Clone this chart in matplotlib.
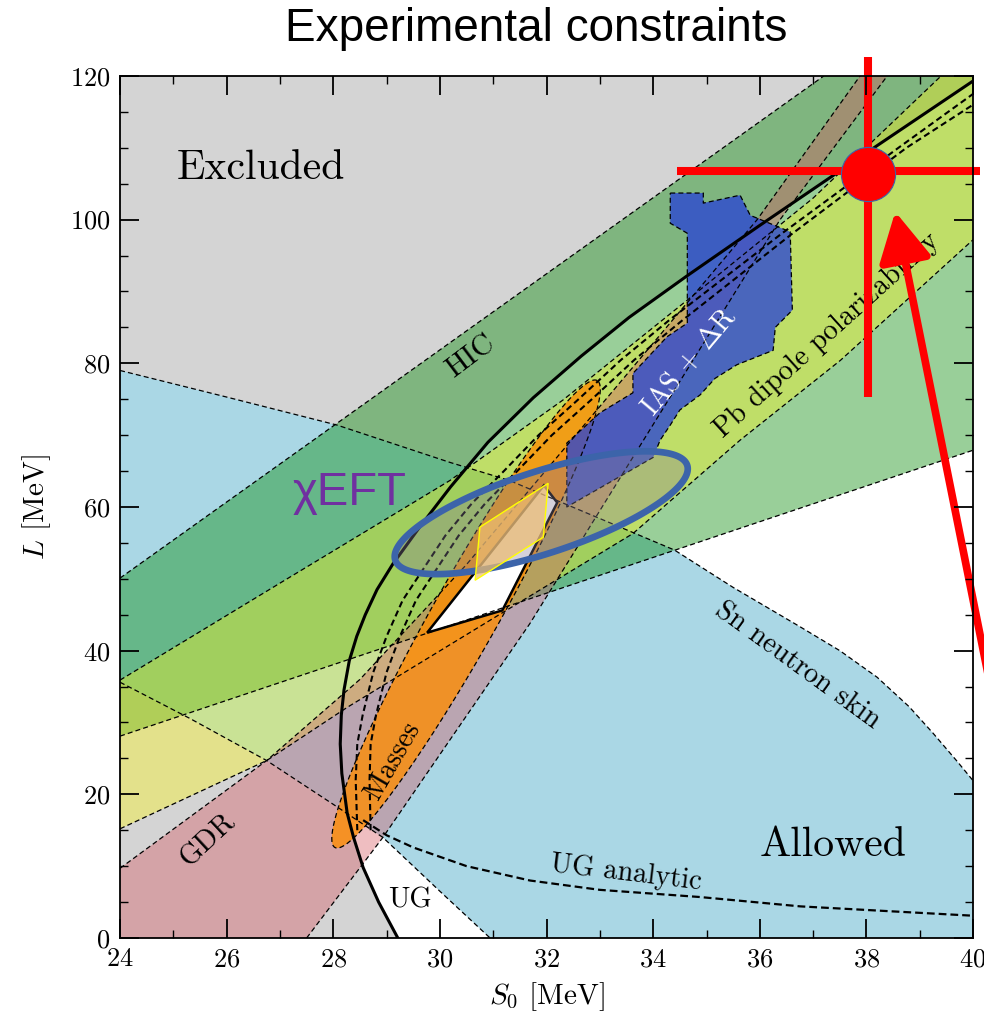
import numpy as np
import matplotlib
matplotlib.use("Agg")
import matplotlib.pyplot as plt
from matplotlib.patches import Polygon

plt.rcParams["font.family"] = ["cmr10", "DejaVu Serif"]
plt.rcParams["mathtext.fontset"] = "cm"
plt.rcParams["axes.formatter.use_mathtext"] = True
plt.rcParams["axes.unicode_minus"] = False

# ---------------- constraint boundaries in the (S0, L) plane [MeV] ----------------
# unitary-gas (UG) bound
ug_S = [29.21, 28.85, 28.56, 28.38, 28.26, 28.16, 28.13, 28.15, 28.20, 28.30, 28.44,
        28.60, 28.82, 29.12, 29.60, 30.20, 30.90, 31.75, 32.65, 33.55, 34.64, 36.00,
        38.00, 40.00]
ug_L = [0.0, 5.0, 9.8, 14.0, 17.4, 22.9, 27.0, 31.0, 34.5, 38.6, 42.0,
        45.0, 48.5, 52.1, 57.0, 62.8, 69.0, 75.2, 81.0, 86.4, 92.2, 99.2,
        109.3, 119.3]

# UG analytic estimate
uga_S = [28.56, 29.0, 29.5, 30.5, 31.69, 33.0, 34.88, 36.76, 38.5, 40.0]
uga_L = [16.4, 14.3, 12.6, 10.0, 8.0, 6.7, 5.7, 4.4, 3.7, 3.1]

# companion bounds running along the UG curve
ub1_S = [28.45, 28.42, 28.45, 28.55, 28.75, 29.00, 29.30, 29.70, 30.10, 30.60, 31.20,
         31.85, 32.60, 33.40, 34.30, 36.40, 38.60, 40.00]
ub1_L = [15.0, 22.0, 27.0, 31.0, 37.0, 42.0, 47.0, 51.5, 56.0, 60.5, 65.0,
         70.0, 75.0, 80.5, 86.0, 98.0, 110.0, 117.5]
ub2_S = [28.70, 28.68, 28.70, 28.80, 29.00, 29.25, 29.55, 29.95, 30.35, 30.85, 31.45,
         32.10, 32.85, 33.65, 34.55, 36.60, 38.75, 40.00]
ub2_L = [15.0, 22.0, 27.0, 31.0, 37.0, 42.0, 47.0, 51.5, 56.0, 60.5, 65.0,
         70.0, 75.0, 80.5, 86.0, 98.0, 110.0, 116.0]

# Sn neutron skin
sn_up_S = [24.0, 26.0, 28.07, 30.19, 31.3, 32.9, 34.4, 35.5, 36.76, 37.5, 38.2,
           38.8, 39.25, 39.7, 40.0]
sn_up_L = [79.0, 75.3, 71.4, 66.2, 63.7, 58.7, 54.0, 48.8, 43.3, 40.0, 36.3,
           32.2, 28.5, 24.6, 21.9]
sn_lo_S = [24.0, 25.3, 26.75, 28.0, 28.93, 30.0, 30.94]
sn_lo_L = [35.6, 30.6, 24.7, 18.6, 14.0, 6.5, 0.0]

# heavy-ion collisions
hic_up_S = [24.0, 37.2]
hic_up_L = [50.1, 120.0]
hic_lo_S = [24.0, 40.0]
hic_lo_L = [28.1, 67.9]

# Pb dipole polarizability
pb_up_S = [24.0, 27.0, 30.19, 32.31, 34.64, 37.0, 39.4]
pb_up_L = [35.9, 49.4, 63.7, 74.9, 88.8, 103.0, 120.0]
pb_lo_S = [24.0, 26.75, 28.26, 31.0, 33.62, 35.63, 37.51, 40.0]
pb_lo_L = [15.2, 24.7, 32.1, 44.5, 56.3, 69.3, 80.4, 97.2]

# giant dipole resonance
gdr_l_S = [24.0, 26.75, 28.5, 30.5, 33.0, 35.95, 37.88]
gdr_l_L = [9.7, 24.7, 36.0, 52.0, 74.0, 100.0, 120.0]
gdr_r_S = [27.5, 28.93, 31.69, 36.38, 38.39]
gdr_r_L = [0.0, 14.0, 43.8, 100.0, 120.0]

# nuclear masses (elongated contour: end points and half width in pixels)
masses_tips_S = [28.03, 32.95]
masses_tips_L = [12.6, 77.6]
masses_halfwidth_px = 33

# IAS + Delta R contour
ias_S = [34.32, 34.94, 34.94, 35.63, 35.82, 36.57, 36.61, 36.29, 36.25, 35.57, 35.16,
         34.88, 34.50, 34.32, 34.13, 34.00, 32.38, 32.38, 33.00, 33.62, 33.62, 34.26,
         34.64, 34.64, 34.32]
ias_L = [103.7, 103.7, 102.3, 103.4, 100.6, 98.3, 87.4, 85.0, 81.8, 79.8, 77.9,
         75.6, 73.5, 71.4, 69.3, 66.9, 60.0, 68.9, 73.1, 75.9, 78.6, 83.7,
         85.6, 98.1, 99.5]

# joint allowed region
joint_S = [29.76, 31.17, 32.20, 31.95]
joint_L = [42.5, 45.6, 60.6, 63.0]

# chiral EFT overlay
chi_box_S = [30.66, 31.94, 32.03, 30.75]
chi_box_L = [49.8, 55.8, 63.3, 57.2]
chi_ell_center = (31.90, 59.2)
chi_ell_axes_px = (153.5, 41.0)
chi_ell_angle = 18.0

# highlighted point with cross-hair
pt_S, pt_L = 38.03, 106.4
cross_h_S = [34.45, 40.13]
cross_h_L = 106.8
cross_v_L = [122.6, 75.3]
arrow_tip = (38.54, 101.1)
arrow_tail = (40.51, 28.2)

# ---------------- figure ----------------
fig = plt.figure(figsize=(9.84, 10.32), dpi=100)
ax = fig.add_axes([0.122, 0.0911, 0.8669, 0.8353])
ax.set_xlim(24, 40)
ax.set_ylim(0, 120)


def xy(S, L):
    return np.column_stack([S, L])


def fill(poly, color, alpha, z):
    ax.add_patch(Polygon(poly, closed=True, facecolor=color, alpha=alpha,
                         edgecolor="none", zorder=z))


def edge(S, L, z=9, lw=0.9):
    ax.plot(S, L, color="black", lw=lw, ls=(0, (4, 2.5)), zorder=z)


def px_ellipse(center, a, b, angle_deg, n=240):
    cx, cy = ax.transData.transform(center)
    t = np.linspace(0, 2 * np.pi, n)
    th = np.deg2rad(angle_deg)
    x = cx + a * np.cos(t) * np.cos(th) - b * np.sin(t) * np.sin(th)
    y = cy + a * np.cos(t) * np.sin(th) + b * np.sin(t) * np.cos(th)
    return ax.transData.inverted().transform(np.column_stack([x, y]))


# excluded side of the UG bound
gray_poly = np.vstack([xy(ug_S, ug_L), [[40, 120], [24, 120], [24, 0]]])
fill(gray_poly, "#d4d4d4", 1.0, 1)

# bands
sn_poly = np.vstack([xy(sn_up_S, sn_up_L), [[40, 0]], xy(sn_lo_S, sn_lo_L)[::-1]])
fill(sn_poly, "#aad7e5", 1.0, 2)

hic_poly = np.vstack([xy(hic_up_S, hic_up_L), [[40, 120]], xy(hic_lo_S, hic_lo_L)[::-1]])
fill(hic_poly, (0.0, 0.53, 0.0), 0.40, 3)

pb_poly = np.vstack([xy(pb_up_S, pb_up_L), [[40, 120]], xy(pb_lo_S, pb_lo_L)[::-1]])
fill(pb_poly, (0.98, 0.96, 0.12), 0.40, 4)

gdr_poly = np.vstack([xy(gdr_l_S, gdr_l_L), xy(gdr_r_S, gdr_r_L)[::-1], [[24, 0]]])
fill(gdr_poly, (0.84, 0.33, 0.37), 0.38, 5)

# masses contour built in screen space from its two tips
p_lo = ax.transData.transform((masses_tips_S[0], masses_tips_L[0]))
p_hi = ax.transData.transform((masses_tips_S[1], masses_tips_L[1]))
m_center = ax.transData.inverted().transform((p_lo + p_hi) / 2)
m_a = np.hypot(*(p_hi - p_lo)) / 2
m_ang = np.degrees(np.arctan2(*(p_hi - p_lo)[::-1]))
masses_poly = px_ellipse(m_center, m_a, masses_halfwidth_px, m_ang)
fill(masses_poly, (1.0, 0.55, 0.0), 0.78, 6)

ias_poly = xy(ias_S, ias_L)
fill(ias_poly, (0.16, 0.27, 0.83), 0.78, 7)

# joint region
ax.add_patch(Polygon(xy(joint_S, joint_L), closed=True, facecolor="white",
                     edgecolor="black", lw=1.8, zorder=8))

# dashed boundaries
for S, L in [(sn_up_S, sn_up_L), (sn_lo_S, sn_lo_L), (hic_up_S, hic_up_L),
             (hic_lo_S, hic_lo_L), (pb_up_S, pb_up_L), (pb_lo_S, pb_lo_L),
             (gdr_l_S, gdr_l_L), (gdr_r_S, gdr_r_L)]:
    edge(S, L)
edge(masses_poly[:, 0], masses_poly[:, 1])
edge(list(ias_S) + [ias_S[0]], list(ias_L) + [ias_L[0]])

ax.plot(ub1_S, ub1_L, color="black", lw=1.5, ls=(0, (3, 1.8)), zorder=9)
ax.plot(ub2_S, ub2_L, color="black", lw=1.5, ls=(0, (3, 1.8)), zorder=9)
ax.plot(uga_S, uga_L, color="black", lw=1.6, ls=(0, (3.5, 1.8)), zorder=9)
ax.plot(ug_S, ug_L, color="black", lw=2.2, zorder=10, solid_joinstyle="round")

# chiral EFT overlay
ell = px_ellipse(chi_ell_center, *chi_ell_axes_px, chi_ell_angle)
ax.add_patch(Polygon(ell, closed=True, facecolor=(0.53, 0.49, 0.59, 0.35),
                     edgecolor="#3c64aa", lw=4.8, zorder=11))
ax.add_patch(Polygon(xy(chi_box_S, chi_box_L), closed=True,
                     facecolor=(0.93, 0.74, 0.45, 0.72), edgecolor="#ffff00",
                     lw=1.0, zorder=12))

# labels
lab = dict(zorder=13, ha="center", va="center", family="cmr10")
ax.text(26.65, 107.2, "Excluded", fontsize=30, **lab)
ax.text(37.37, 12.9, "Allowed", fontsize=30, **lab)
ax.text(30.57, 80.9, "HIC", fontsize=21, rotation=37, **lab)
ax.text(34.69, 80.2, r"IAS + $\Delta$R", fontsize=20, rotation=50, color="white", **lab)
ax.text(37.26, 83.9, "Pb dipole polarizability", fontsize=20.5, rotation=42, **lab)
ax.text(36.7, 37.9, "Sn neutron skin", fontsize=20.5, rotation=-36, **lab)
ax.text(29.12, 24.7, "Masses", fontsize=20, rotation=60, **lab)
ax.text(25.65, 13.6, "GDR", fontsize=20.5, rotation=43, **lab)
ax.text(29.44, 5.2, "UG", fontsize=20.5, **lab)
ax.text(33.5, 9.0, "UG analytic", fontsize=20.5, rotation=-7, **lab)
ax.text(28.3, 61.9, "\u03c7EFT", fontsize=34, color="#7030a0", zorder=13,
        ha="center", va="center", family="Liberation Sans")

# highlighted point
red = dict(color="red", clip_on=False, zorder=15, solid_capstyle="butt")
ax.plot(cross_h_S, [cross_h_L, cross_h_L], lw=5.8, **red)
ax.plot([pt_S, pt_S], cross_v_L, lw=5.8, **red)
ax.plot([pt_S], [pt_L], marker="o", ms=39, mfc="red", mec="#3c64aa", mew=0.8,
        clip_on=False, zorder=16)
ax.annotate("", xy=arrow_tip, xytext=arrow_tail, annotation_clip=False, zorder=16,
            arrowprops=dict(arrowstyle="-|>,head_length=1.5,head_width=0.8",
                            mutation_scale=20, lw=5.5, color="red",
                            shrinkA=0, shrinkB=0))

# axes styling
ax.set_xticks(np.arange(24, 41, 2))
ax.set_xticks(np.arange(24, 41, 1), minor=True)
ax.set_yticks(np.arange(0, 121, 20))
ax.set_yticks(np.arange(0, 121, 5), minor=True)
ax.tick_params(which="both", direction="in", top=True, right=True)
ax.tick_params(which="major", length=14, width=1.3, labelsize=19, pad=7)
ax.tick_params(which="minor", length=6, width=1.0)
for s in ax.spines.values():
    s.set_linewidth(1.3)
    s.set_zorder(20)
ax.xaxis.set_zorder(20)
ax.yaxis.set_zorder(20)
ax.set_xlabel(r"$S_0$ [MeV]", fontsize=21, labelpad=6)
ax.set_ylabel(r"$L$ [MeV]", fontsize=21, labelpad=12)

fig.text(0.545, 0.972, "Experimental constraints", family="Liberation Sans",
         fontsize=33, ha="center", va="center")

fig.savefig("out.png", dpi=100)
